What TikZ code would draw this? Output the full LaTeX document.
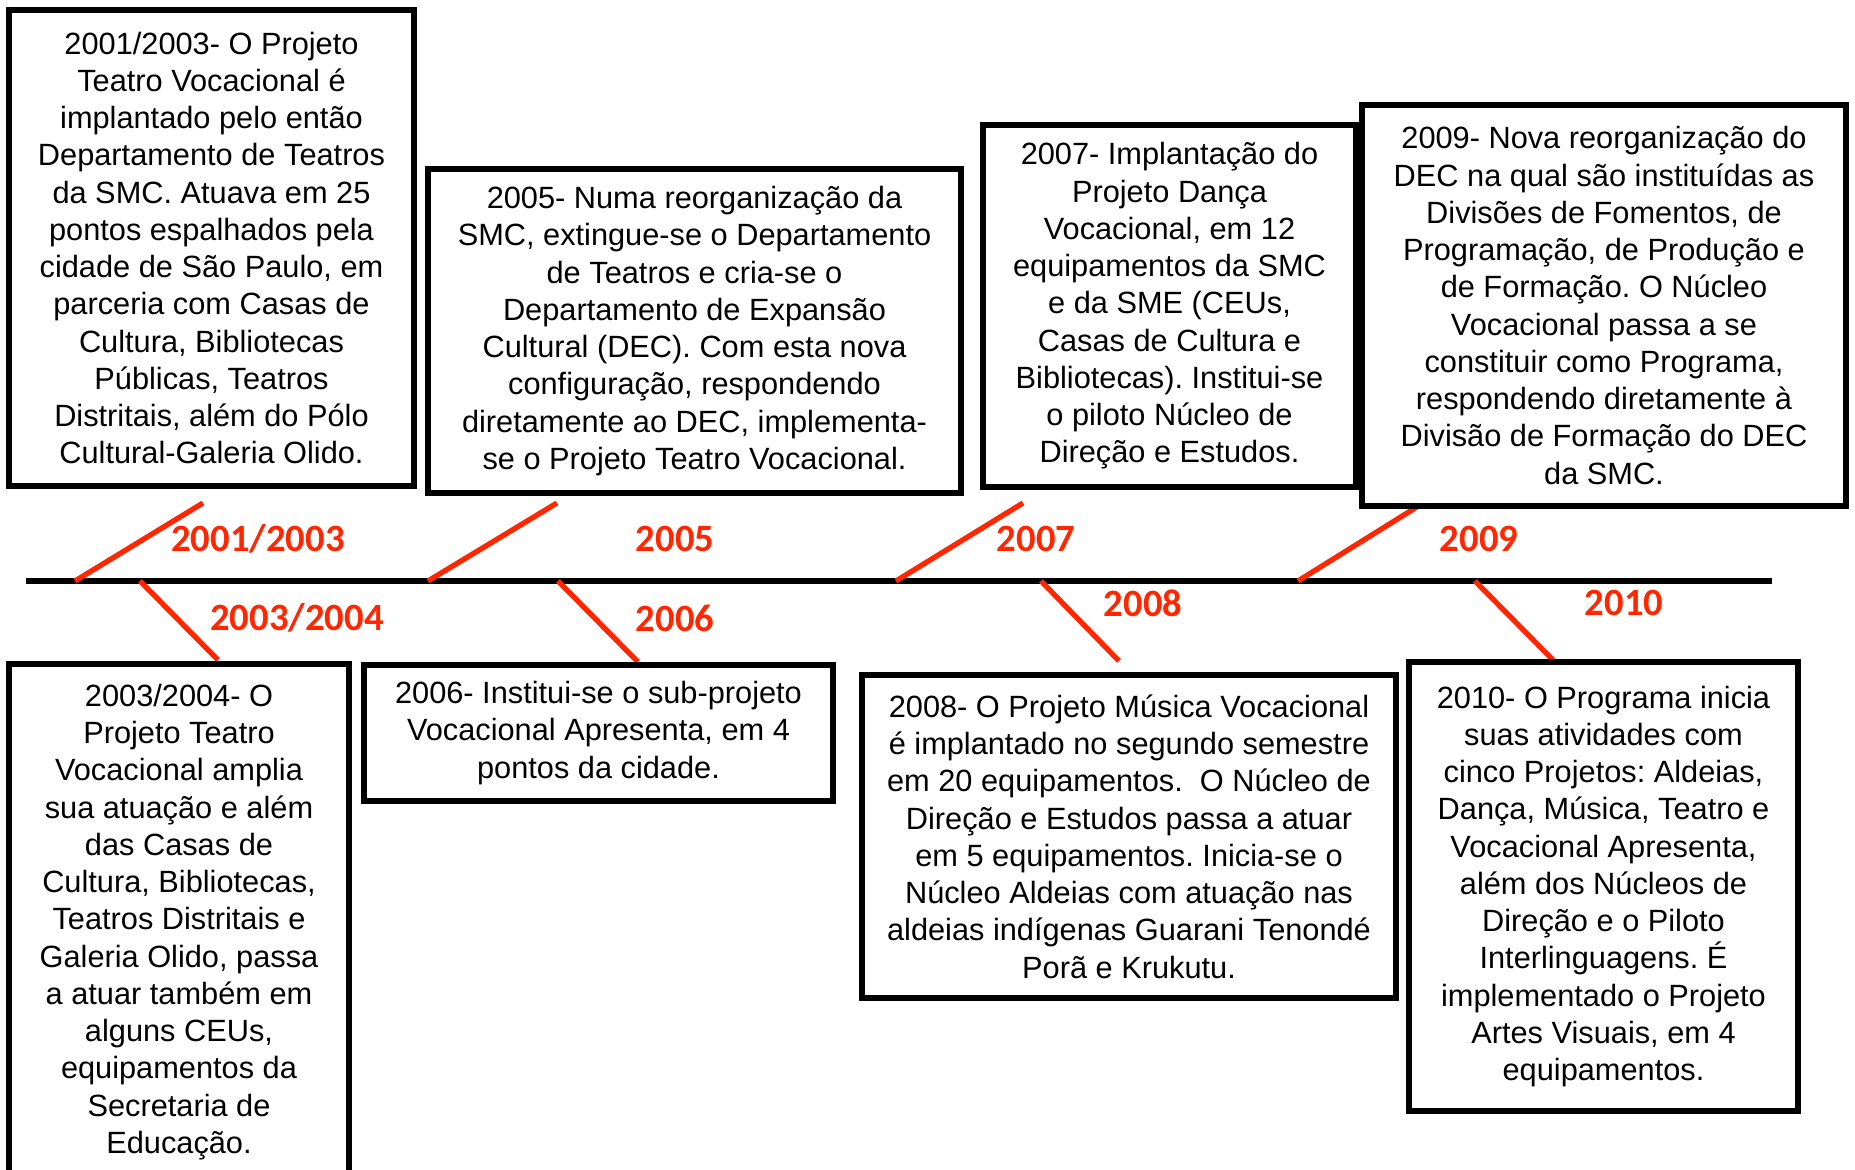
\documentclass[tikz,border=0pt]{standalone}
\usepackage{fontspec}
\setmainfont{Liberation Sans}
\newfontfamily\yearfont{Carlito}
\usepackage{tikz}
\usepackage{xcolor}
\definecolor{tlred}{RGB}{255,38,0}
\frenchspacing

\begin{document}
\begin{tikzpicture}[line cap=round,
  evbox/.style={draw=black,line width=1.6pt,align=center,inner sep=0pt,fill=white,
    font=\fontsize{8.75}{10.6}\selectfont\frenchspacing},
  yearlbl/.style={text=tlred,font=\yearfont\bfseries\fontsize{11}{13}\selectfont},
  yeartick/.style={tlred,line width=1.5pt,line cap=butt}]
\useasboundingbox (0,0) rectangle (18.55,11.7);
\coordinate (tlA) at (0.26,5.89);
\coordinate (tlB) at (17.72,5.89);
\draw[line width=1.7pt,line cap=butt] (tlA) -- (tlB);
\coordinate (u0103) at (0.75,5.89);  \coordinate (v0103) at (2.03,6.67);
\coordinate (u2005) at (4.28,5.89);  \coordinate (v2005) at (5.57,6.67);
\coordinate (u2007) at (8.96,5.89);  \coordinate (v2007) at (10.23,6.67);
\coordinate (u2009) at (12.98,5.89); \coordinate (v2009) at (14.20,6.65);
\coordinate (d0304) at (1.40,5.89);  \coordinate (w0304) at (2.18,5.10);
\coordinate (d2006) at (5.58,5.89);  \coordinate (w2006) at (6.38,5.08);
\coordinate (d2008) at (10.41,5.89); \coordinate (w2008) at (11.19,5.09);
\coordinate (d2010) at (14.75,5.89); \coordinate (w2010) at (15.53,5.10);
\draw[yeartick] (u0103) -- (v0103);
\draw[yeartick] (u2005) -- (v2005);
\draw[yeartick] (u2007) -- (v2007);
\draw[yeartick] (u2009) -- (v2009);
\draw[yeartick] (d0304) -- (w0304);
\draw[yeartick] (d2006) -- (w2006);
\draw[yeartick] (d2008) -- (w2008);
\draw[yeartick] (d2010) -- (w2010);
\node[yearlbl] (y0103) at (2.58,6.31) {2001/2003};
\node[yearlbl] (y2005) at (6.75,6.31) {2005};
\node[yearlbl] (y2007) at (10.36,6.31) {2007};
\node[yearlbl] (y2009) at (14.79,6.31) {2009};
\node[yearlbl] (y0304) at (2.97,5.52) {2003/2004};
\node[yearlbl] (y2006) at (6.75,5.52) {2006};
\node[yearlbl] (y2008) at (11.43,5.67) {2008};
\node[yearlbl] (y2010) at (16.24,5.67) {2010};
\node[evbox,minimum width=4.05cm,minimum height=4.76cm] (ev0103) at (2.115,9.22)
  {2001/2003- O Projeto\\Teatro Vocacional é\\implantado pelo então\\Departamento de Teatros\\da SMC. Atuava em 25\\pontos espalhados pela\\cidade de São Paulo, em\\parceria com Casas de\\Cultura, Bibliotecas\\Públicas, Teatros\\Distritais, além do Pólo\\Cultural-Galeria Olido.};
\node[evbox,minimum width=5.33cm,minimum height=3.24cm] (ev2005) at (6.945,8.39)
  {2005- Numa reorganização da\\SMC, extingue-se o Departamento\\de Teatros e cria-se o\\Departamento de Expansão\\Cultural (DEC). Com esta nova\\configuração, respondendo\\diretamente ao DEC, implementa-\\se o Projeto Teatro Vocacional.};
\node[evbox,minimum width=3.73cm,minimum height=3.62cm] (ev2007) at (11.695,8.64)
  {2007- Implantação do\\Projeto Dança\\Vocacional, em 12\\equipamentos da SMC\\e da SME (CEUs,\\Casas de Cultura e\\Bibliotecas). Institui-se\\o piloto Núcleo de\\Direção e Estudos.};
\node[evbox,minimum width=4.84cm,minimum height=4.01cm] (ev2009) at (16.04,8.645)
  {2009- Nova reorganização do\\DEC na qual são instituídas as\\Divisões de Fomentos, de\\Programação, de Produção e\\de Formação. O Núcleo\\Vocacional passa a se\\constituir como Programa,\\respondendo diretamente à\\Divisão de Formação do DEC\\da SMC.};
\node[evbox,minimum width=3.40cm,minimum height=5.16cm] (ev0304) at (1.79,2.48)
  {2003/2004- O\\Projeto Teatro\\Vocacional amplia\\sua atuação e além\\das Casas de\\Cultura, Bibliotecas,\\Teatros Distritais e\\Galeria Olido, passa\\a atuar também em\\alguns CEUs,\\equipamentos da\\Secretaria de\\Educação.};
\node[evbox,minimum width=4.69cm,minimum height=1.36cm] (ev2006) at (5.985,4.37)
  {2006- Institui-se o sub-projeto\\Vocacional Apresenta, em 4\\pontos da cidade.};
\node[evbox,minimum width=5.34cm,minimum height=3.23cm] (ev2008) at (11.29,3.335)
  {2008- O Projeto Música Vocacional\\é implantado no segundo semestre\\em 20 equipamentos.\ \ O Núcleo de\\Direção e Estudos passa a atuar\\em 5 equipamentos. Inicia-se o\\Núcleo Aldeias com atuação nas\\aldeias indígenas Guarani Tenondé\\Porã e Krukutu.};
\node[evbox,minimum width=3.89cm,minimum height=4.49cm] (ev2010) at (16.035,2.835)
  {2010- O Programa inicia\\suas atividades com\\cinco Projetos: Aldeias,\\Dança, Música, Teatro e\\Vocacional Apresenta,\\além dos Núcleos de\\Direção e o Piloto\\Interlinguagens. É\\implementado o Projeto\\Artes Visuais, em 4\\equipamentos.};
\end{tikzpicture}
\end{document}
